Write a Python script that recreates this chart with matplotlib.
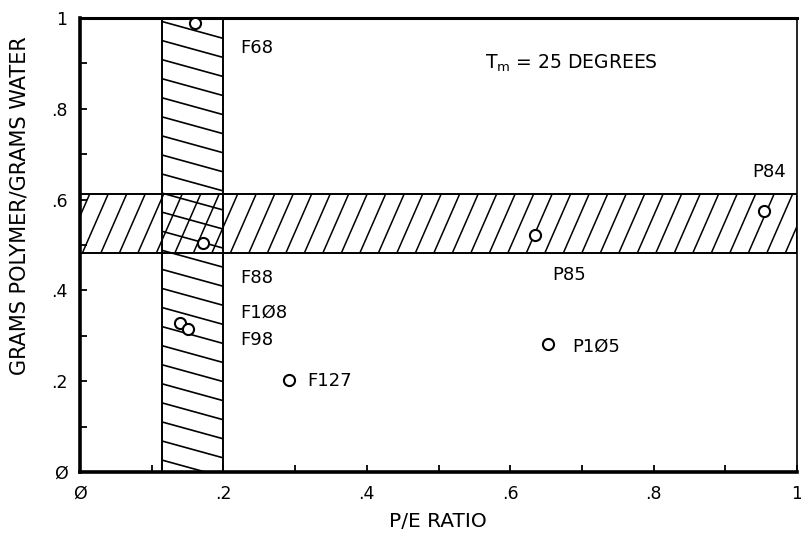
import numpy as np
import matplotlib.pyplot as plt
from matplotlib.patches import Rectangle

# sample points (P/E ratio, grams polymer / grams water)
names = ["F68", "F88", "F108", "F98", "F127", "P85", "P105", "P84"]
pe_ratio = [0.160, 0.171, 0.139, 0.151, 0.291, 0.634, 0.653, 0.954]
polymer = [0.989, 0.505, 0.329, 0.316, 0.203, 0.521, 0.282, 0.575]
# label anchor positions
label_x = [0.223, 0.223, 0.223, 0.223, 0.317, 0.659, 0.686, 0.937]
label_y = [0.934, 0.427, 0.351, 0.291, 0.200, 0.434, 0.276, 0.661]

# shaded ranges
pe_band = [0.115, 0.200]
poly_band = [0.482, 0.612]

ticks = [0, 0.2, 0.4, 0.6, 0.8, 1.0]
xtick_labels = ["\u00d8", ".2", ".4", ".6", ".8", "1"]
ytick_labels = ["\u00d8", ".2", ".4", ".6", ".8", "1"]

plt.rcParams['font.family'] = ['DejaVu Sans']

fig = plt.figure(figsize=(8.01, 5.36), dpi=100)
ax = fig.add_axes([0.0999, 0.1194, 0.8951, 0.847])
ax.set_xlim(0, 1)
ax.set_ylim(0, 1)

# vertical band, lines falling to the right
vrect = Rectangle((pe_band[0], 0), pe_band[1] - pe_band[0], 1, fill=False,
                  edgecolor="black", lw=1.4, zorder=3)
ax.add_patch(vrect)
step_v = 0.042
drop_v = 0.037
for y0 in np.arange(-0.1, 1.15, step_v):
    ln, = ax.plot([pe_band[0], pe_band[1]], [y0, y0 - drop_v], color="black", lw=1.2)
    ln.set_clip_path(vrect)

# horizontal band, steep lines rising to the right
hrect = Rectangle((0, poly_band[0]), 1, poly_band[1] - poly_band[0], fill=False,
                  edgecolor="black", lw=1.4, zorder=3)
ax.add_patch(hrect)
step_h = 0.0258
slant_h = 0.036
for x0 in np.arange(-0.1, 1.1, step_h):
    ln, = ax.plot([x0, x0 + slant_h], [poly_band[0], poly_band[1]], color="black", lw=1.1)
    ln.set_clip_path(hrect)

ax.plot(pe_ratio, polymer, linestyle="none", marker="o", markersize=8,
        markerfacecolor="white", markeredgecolor="black", markeredgewidth=1.5, zorder=4)

for n, lx, ly in zip(names, label_x, label_y):
    ax.text(lx, ly, n.replace("0", "\u00d8"), fontsize=13, va="center", ha="left")

ax.text(0.565, 0.90, "T$_\\mathregular{m}$ = 25 DEGREES", fontsize=13.5, va="center", ha="left")

ax.set_xticks(ticks)
ax.set_yticks(ticks)
ax.set_xticklabels(xtick_labels, fontsize=12.5)
ax.set_yticklabels(ytick_labels, fontsize=12.5)
ax.set_xticks(np.arange(0.1, 1.0, 0.2), minor=True)
ax.set_yticks(np.arange(0.1, 1.0, 0.2), minor=True)
ax.tick_params(which="both", direction="in", length=5, width=1.3, top=False, right=False)
ax.tick_params(axis="x", pad=9)
ax.tick_params(axis="y", pad=9)

ax.spines["left"].set_linewidth(2.6)
ax.spines["bottom"].set_linewidth(2.6)
ax.spines["top"].set_linewidth(2.2)
ax.spines["right"].set_linewidth(1.2)

fig.text(0.547, 0.027, "P/E RATIO", fontsize=14.5, ha="center", va="center")
fig.text(0.024, 0.616, "GRAMS POLYMER/GRAMS WATER", fontsize=15, ha="center",
         va="center", rotation=90)

fig.savefig("out.png", dpi=100)
